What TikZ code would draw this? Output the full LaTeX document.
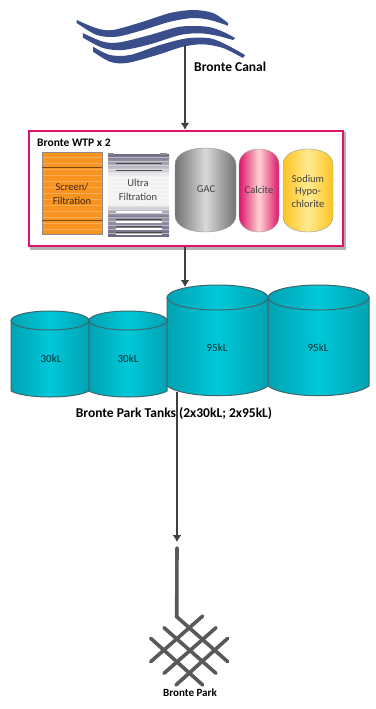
\documentclass[tikz,border=0pt]{standalone}
\usepackage{fontspec}
\setmainfont{Carlito}
\definecolor{canalblue}{HTML}{3A4E8C}
\definecolor{flowgrey}{HTML}{404040}
\definecolor{wtpred}{HTML}{DC1568}
\definecolor{screenorange}{HTML}{F7931E}
\definecolor{membrane}{HTML}{6F6A84}
\definecolor{sodiumedge}{HTML}{FDC422}
\definecolor{sodiumlight}{HTML}{FFE98F}
\definecolor{tankline}{HTML}{40676E}
\definecolor{tankdark}{HTML}{00A3B2}
\definecolor{tanklight}{HTML}{00C8D9}
\usetikzlibrary{arrows.meta}
\tikzset{
	flow/.style={draw=flowgrey, line width=1.6pt, -{Latex[length=7pt,width=9pt]}},
	vessel/.style={draw=black!40, line width=0.4pt},
	tank/.style={draw=tankline, line width=1pt, left color=tankdark, right color=tankdark, middle color=tanklight},
	tanklabel/.style={font=\fontsize{11}{11}\selectfont, text=black!70!tankdark},
	unitlabel/.style={font=\fontsize{10.5}{13.5}\selectfont, text=black!75, align=center},
	title/.style={font=\fontsize{13.5}{14}\selectfont\bfseries, inner sep=0pt},
	mains/.style={draw=black!65, line width=3.6pt, line cap=round}
}
\begin{document}
\begin{tikzpicture}[x=1pt, y=-1pt]
	\useasboundingbox (0,0) rectangle (375,709);
	% canale
	\fill[canalblue] plot[smooth] coordinates {(76.7,20) (96.7,28.3) (113,30) (143,21.7) (170,13) (193,10) (213,13) (228,23)}
		-- plot[smooth] coordinates {(228,25.7) (210,20) (193,18) (170,21.7) (143,30) (116.7,36.7) (96.7,35) (76.7,23)} -- cycle;
	\fill[canalblue] plot[smooth] coordinates {(82.7,33) (103,41.7) (120,42.3) (150,35) (180,26.7) (207,26.7) (223,31.7) (235,38)}
		-- plot[smooth] coordinates {(233,40) (217,35.7) (200,33.3) (180,35) (150,44.3) (123,50) (103,48) (83,37.7)} -- cycle;
	\fill[canalblue] plot[smooth] coordinates {(93,46.7) (110,55) (130,55) (160,45) (187,38.3) (210,38.3) (227,45) (245,55)}
		-- plot[smooth] coordinates {(243,58) (223,48) (203,44.3) (183,46.7) (157,55) (127,63) (110,61.7) (93,51.7)} -- cycle;
	\coordinate (canal) at (185,45);
	\node[title, anchor=west] (canallabel) at (194,67) {Bronte Canal};
	% impianto
	\fill[black!30] (30,132) rectangle (346,250);
	\node[draw=wtpred, fill=white, line width=2.5pt, minimum width=314pt, minimum height=115pt, inner sep=0pt] (wtp) at (186,188.5) {};
	\node[title, font=\fontsize{11.5}{12}\selectfont\bfseries, anchor=west] (wtplabel) at (37,143) {Bronte WTP x 2};
	% filtro a griglia
	\fill[screenorange] (42,152) rectangle (102,234);
	\foreach \y in {157,163,...,233}
		\draw[screenorange!75!white, line width=0.4pt] (42,\y) -- (102,\y);
	\draw[black!45, line width=0.6pt] (42,152) rectangle (102,234);
	\draw[black!50!screenorange, line width=0.8pt] (42,167) -- (102,167);
	\draw[black!50!screenorange, line width=0.8pt] (42,220) -- (102,220);
	\node[unitlabel, text=black!75!screenorange] (screen) at (72,194) {Screen/\\Filtration};
	% ultrafiltrazione
	\shade[top color=membrane, bottom color=black!5] (108,154) rectangle (169,176);
	\fill[black!5] (108,176) rectangle (169,204);
	\shade[top color=black!5, bottom color=membrane] (108,204) rectangle (169,218);
	\shade[top color=membrane!70!white, bottom color=membrane] (108,218) rectangle (169,236);
	\foreach \y in {157,161,...,235}
		\draw[white, opacity=0.45, line width=0.7pt] (108,\y) -- (169,\y);
	\foreach \y in {163,170,219,226,232}
		\draw[black!70, line width=1pt] (116,\y) -- (162,\y);
	\foreach \y in {212,222,229,234.5}
		\draw[white, line width=1.1pt] (116,\y) -- (162,\y);
	\fill[black!45] (108,152.5) rectangle (114,155);
	\fill[black!45] (160,152.5) rectangle (167,155);
	\node[unitlabel] (ultra) at (138,190) {Ultra\\Filtration};
	% carbone attivo
	\shade[vessel, left color=black!55, right color=black!55, middle color=black!15]
		(175,165) .. controls (175,153) and (190,148) .. (205.5,148) .. controls (221,148) and (236,153) .. (236,165)
		-- (236,215) .. controls (236,227) and (221,232) .. (205.5,232) .. controls (190,232) and (175,227) .. (175,215) -- cycle;
	\node[unitlabel] (gac) at (206,189) {GAC};
	% calcite
	\shade[vessel, left color=wtpred, right color=wtpred, middle color=pink!70!white]
		(239,165) .. controls (239,154) and (249,149) .. (259,149) .. controls (269,149) and (279,154) .. (279,165)
		-- (279,216) .. controls (279,227) and (269,232) .. (259,232) .. controls (249,232) and (239,227) .. (239,216) -- cycle;
	\node[unitlabel] (calcite) at (259,190) {Calcite};
	% ipoclorito
	\shade[vessel, left color=sodiumedge, right color=sodiumedge, middle color=sodiumlight]
		(283,165) .. controls (283,154) and (295,149) .. (308,149) .. controls (321,149) and (333,154) .. (333,165)
		-- (333,216) .. controls (333,227) and (321,232) .. (308,232) .. controls (295,232) and (283,227) .. (283,216) -- cycle;
	\node[unitlabel, font=\fontsize{10.5}{12.5}\selectfont] (sodium) at (308,191) {Sodium\\Hypo-\\chlorite};
	% serbatoi
	\path[tank] (11,320.5) -- (11,391) .. controls (25,399) and (75,399) .. (89,391) -- (89,320.5) -- cycle;
	\path[tank] (50,320.5) ellipse [x radius=39, y radius=9.5];
	\path[tank] (89,320.5) -- (89,391) .. controls (103,399) and (153,399) .. (167,391) -- (167,320.5) -- cycle;
	\path[tank] (128,320.5) ellipse [x radius=39, y radius=9.5];
	\path[tank] (167,297.5) -- (167,386) .. controls (185,399) and (250,399) .. (268,386) -- (268,297.5) -- cycle;
	\path[tank] (217.5,297.5) ellipse [x radius=50.5, y radius=12.5];
	\path[tank] (268,297.5) -- (268,386) .. controls (286,399) and (351,399) .. (369,386) -- (369,297.5) -- cycle;
	\path[tank] (318.5,297.5) ellipse [x radius=50.5, y radius=12.5];
	\node[tanklabel] (tank1) at (51,359) {30kL};
	\node[tanklabel] (tank2) at (128,359) {30kL};
	\node[tanklabel] (tank3) at (217,348) {95kL};
	\node[tanklabel] (tank4) at (318,348) {95kL};
	\coordinate (tanksin) at (185,287);
	\coordinate (tanksout) at (177,392);
	\node[title] (tankslabel) at (174,414) {Bronte Park Tanks (2x30kL; 2x95kL)};
	% rete
	\coordinate (parkin) at (177,542);
	\coordinate (mainstop) at (177,548);
	\coordinate (mainsend) at (176.7,616.7);
	\draw[mains] (mainstop) -- (mainsend) -- (227.7,661.7);
	\draw[mains] (164,627.7) -- (216,673.3);
	\draw[mains] (150.7,638.3) -- (202.7,685);
	\draw[mains] (202.7,616) -- (150.7,661.7);
	\draw[mains] (216,627.7) -- (164,673.3);
	\draw[mains] (227.7,638.3) -- (176,685);
	\node[title, font=\fontsize{11}{11}\selectfont\bfseries] (park) at (190,693) {Bronte Park};
	% frecce
	\draw[flow] (canal) -- (canal |- wtp.north);
	\draw[flow] (canal |- wtp.south) -- (tanksin);
	\draw[flow] (tanksout) -- (parkin);
\end{tikzpicture}
\end{document}
